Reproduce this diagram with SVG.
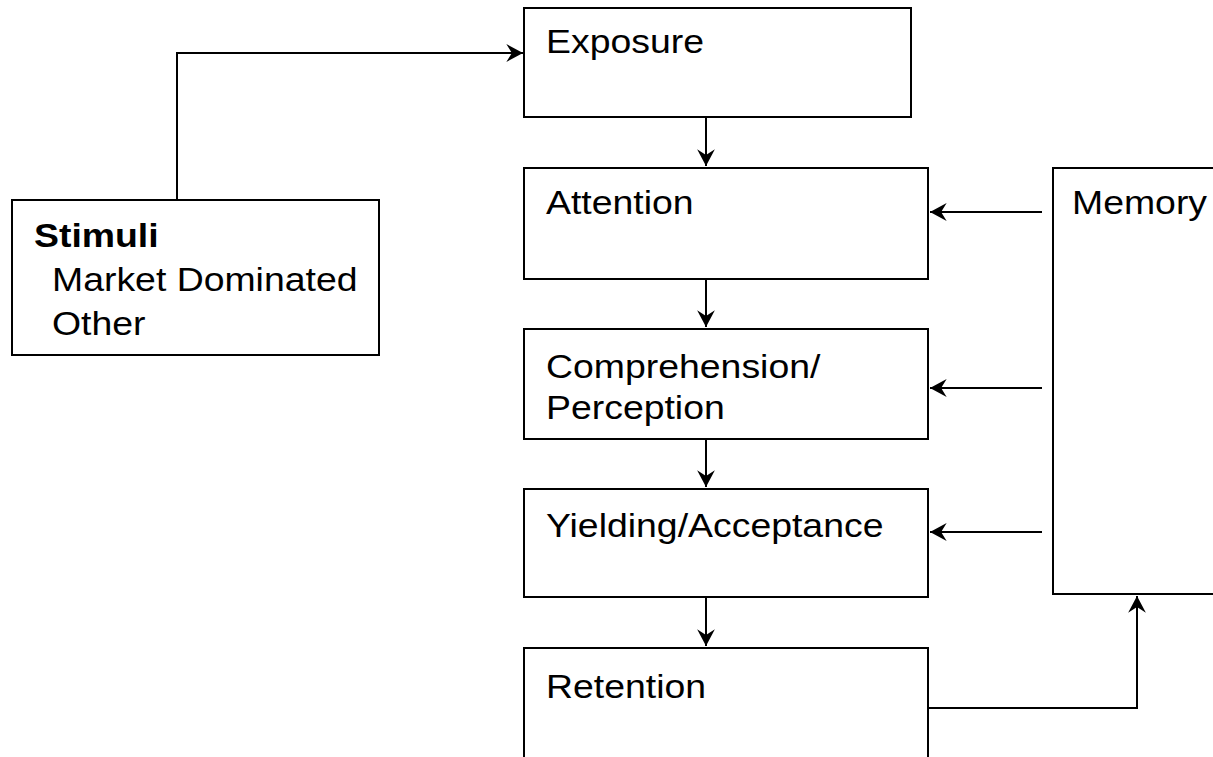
<svg xmlns="http://www.w3.org/2000/svg" width="1213" height="757" viewBox="0 0 1213 757">
<style>
.box{fill:#fff;stroke:#000;stroke-width:2}
.lbl{font-family:"Liberation Sans",Arial,sans-serif;font-size:34px;fill:#000}
.b{font-weight:bold}
.con{fill:none;stroke:#000;stroke-width:2}
</style>
<defs>
<marker id="ah" markerUnits="userSpaceOnUse" markerWidth="20" markerHeight="20" viewBox="-16 -9 18 18" refX="0" refY="0" orient="auto">
<path d="M0,0 L-15,-8 L-10,0 L-15,8 Z" fill="#000"/>
</marker>
</defs>
<rect width="1213" height="757" fill="#fff"/>
<g id="connectors">
<polyline class="con" points="177,200 177,53 523,53" marker-end="url(#ah)"/>
<line class="con" x1="706" y1="117" x2="706" y2="166" marker-end="url(#ah)"/>
<line class="con" x1="706" y1="279" x2="706" y2="327" marker-end="url(#ah)"/>
<line class="con" x1="706" y1="439" x2="706" y2="487" marker-end="url(#ah)"/>
<line class="con" x1="706" y1="597" x2="706" y2="646" marker-end="url(#ah)"/>
<line class="con" x1="1042" y1="212" x2="930" y2="212" marker-end="url(#ah)"/>
<line class="con" x1="1042" y1="388" x2="930" y2="388" marker-end="url(#ah)"/>
<line class="con" x1="1042" y1="532" x2="930" y2="532" marker-end="url(#ah)"/>
<polyline class="con" points="928,708 1137,708 1137,596" marker-end="url(#ah)"/>
</g>
<g id="stimuli">
<rect class="box" x="12" y="200" width="367" height="155"/>
<text class="lbl b" transform="translate(34,247) scale(1.1,1)">Stimuli</text>
<text class="lbl" transform="translate(52,291) scale(1.1,1)">Market Dominated</text>
<text class="lbl" transform="translate(52,335) scale(1.1,1)">Other</text>
</g>
<g id="exposure">
<rect class="box" x="524" y="8" width="387" height="109"/>
<text class="lbl" transform="translate(546,53) scale(1.1,1)">Exposure</text>
</g>
<g id="attention">
<rect class="box" x="524" y="168" width="404" height="111"/>
<text class="lbl" transform="translate(546,214) scale(1.1,1)">Attention</text>
</g>
<g id="comprehension">
<rect class="box" x="524" y="329" width="404" height="110"/>
<text class="lbl" transform="translate(546,378) scale(1.1,1)">Comprehension/</text>
<text class="lbl" transform="translate(546,419) scale(1.1,1)">Perception</text>
</g>
<g id="yielding">
<rect class="box" x="524" y="489" width="404" height="108"/>
<text class="lbl" transform="translate(546,537) scale(1.1,1)">Yielding/Acceptance</text>
</g>
<g id="retention">
<rect class="box" x="524" y="648" width="404" height="140"/>
<text class="lbl" transform="translate(546,698) scale(1.1,1)">Retention</text>
</g>
<g id="memory">
<rect class="box" x="1053" y="168" width="200" height="426"/>
<text class="lbl" transform="translate(1072,214) scale(1.1,1)">Memory</text>
</g>
</svg>
